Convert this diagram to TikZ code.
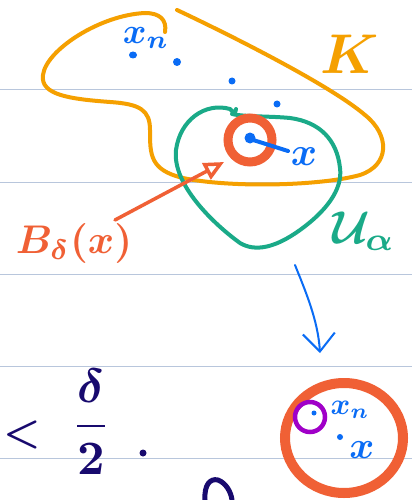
\documentclass[tikz,border=0pt]{standalone}
\usepackage{amsmath}
\usetikzlibrary{arrows.meta}
\definecolor{kor}{RGB}{245,160,0}
\definecolor{teal2}{RGB}{26,170,136}
\definecolor{redo}{RGB}{240,96,53}
\definecolor{blu}{RGB}{10,108,245}
\definecolor{purp}{RGB}{160,0,200}
\definecolor{navy2}{RGB}{24,10,110}
\definecolor{rulec}{RGB}{184,198,220}
\tikzset{
  rule/.style={draw=rulec, line width=1pt},
  ink/.style={line cap=round, line join=round},
  lbl/.style={inner sep=0pt, font=\boldmath},
}
\begin{document}
\begin{tikzpicture}[x=1pt,y=-1pt]
\useasboundingbox (0,0) rectangle (412,500);
\fill[white] (0,0) rectangle (412,500);
\foreach \y in {90,182,274,366,458} \draw[rule] (0,\y) -- (412,\y);
% K set
\draw[ink, kor, line width=4pt] (177,10) .. controls (230,35) and (330,85) .. (365,115)
  .. controls (390,135) and (390,165) .. (360,175)
  .. controls (320,186) and (230,188) .. (183,178)
  .. controls (150,170) and (150,155) .. (150,130)
  .. controls (150,110) and (140,104) .. (110,102)
  .. controls (70,99) and (40,95) .. (43,75)
  .. controls (46,50) and (100,15) .. (145,13)
  .. controls (160,13) and (167,20) .. (165,32);
\node[lbl, kor, scale=5.6] (K) at (350,54) {$K$};
% points
\node[lbl, blu, scale=3.6] (xn) at (146,38) {$x_n$};
\fill[blu] (133,55) ellipse[x radius=4pt, y radius=3.5pt];
\fill[blu] (177,62) circle[radius=4pt];
\fill[blu] (232,81) circle[radius=3.5pt];
\fill[blu] (277,104) circle[radius=3.5pt];
% U alpha
\draw[ink, teal2, line width=4pt] (236,109) .. controls (236,113) and (233,113) .. (230,109)
  .. controls (205,102) and (180,120) .. (176,150)
  .. controls (172,185) and (215,225) .. (240,243)
  .. controls (255,252) and (275,248) .. (300,230)
  .. controls (325,212) and (343,190) .. (340,168)
  .. controls (337,140) and (320,122) .. (290,118)
  .. controls (270,116) and (245,117) .. (232,114);
\node[lbl, teal2, scale=4.6] (U) at (364,231) {$\mathcal{U}_\alpha$};
% ball around x
\draw[redo, line width=9pt] (250,140) circle[radius=22pt];
\fill[blu] (250,138) circle[radius=5.5pt];
\coordinate (xc) at (250,139);
\coordinate (xe) at (288,151);
\draw[ink, blu, line width=4pt] (xc) -- (xe);
\node[lbl, blu, scale=4] (x) at (304,157) {$x$};
% B_delta(x) label and arrow
\node[lbl, redo, scale=4, anchor=west] (B) at (15,243) {$B_\delta(x)$};
\coordinate (bs) at (115,220);
\coordinate (bt) at (224,162);
\draw[ink, redo, line width=3.5pt, -{Triangle[open,length=20pt,width=18pt,line width=3.5pt]}] (bs) -- (bt);
% down arrow
\coordinate (da) at (295,265);
\coordinate (db) at (320,353);
\draw[ink, blu, line width=2pt, -{Straight Barb[length=18pt,width=32pt,line width=2pt]}] (da) .. controls (305,290) and (318,320) .. (db);
% lower ball
\draw[redo, line width=10pt] (344,438) ellipse[x radius=59pt, y radius=55pt];
\draw[purp, line width=4.5pt] (310,417) circle[radius=15pt];
\fill[blu] (314,413) circle[radius=2.5pt];
\node[lbl, blu, scale=3] (xn2) at (350,410) {$x_n$};
\fill[blu] (340,437) circle[radius=3pt];
\node[lbl, blu, scale=3.8] (x2) at (362,450) {$x$};
% bottom-left note
\node[lbl, navy2, scale=4.2] (lt) at (22,435) {$<$};
\node[lbl, navy2, scale=4.8] (fr) at (91,422) {$\dfrac{\delta}{2}$};
\fill[navy2] (143,453) circle[radius=3.5pt];
\draw[ink, navy2, line width=5pt] (205,500) .. controls (204,485) and (210,478) .. (218,480)
  .. controls (226,483) and (231,492) .. (232,500);
\end{tikzpicture}
\end{document}
